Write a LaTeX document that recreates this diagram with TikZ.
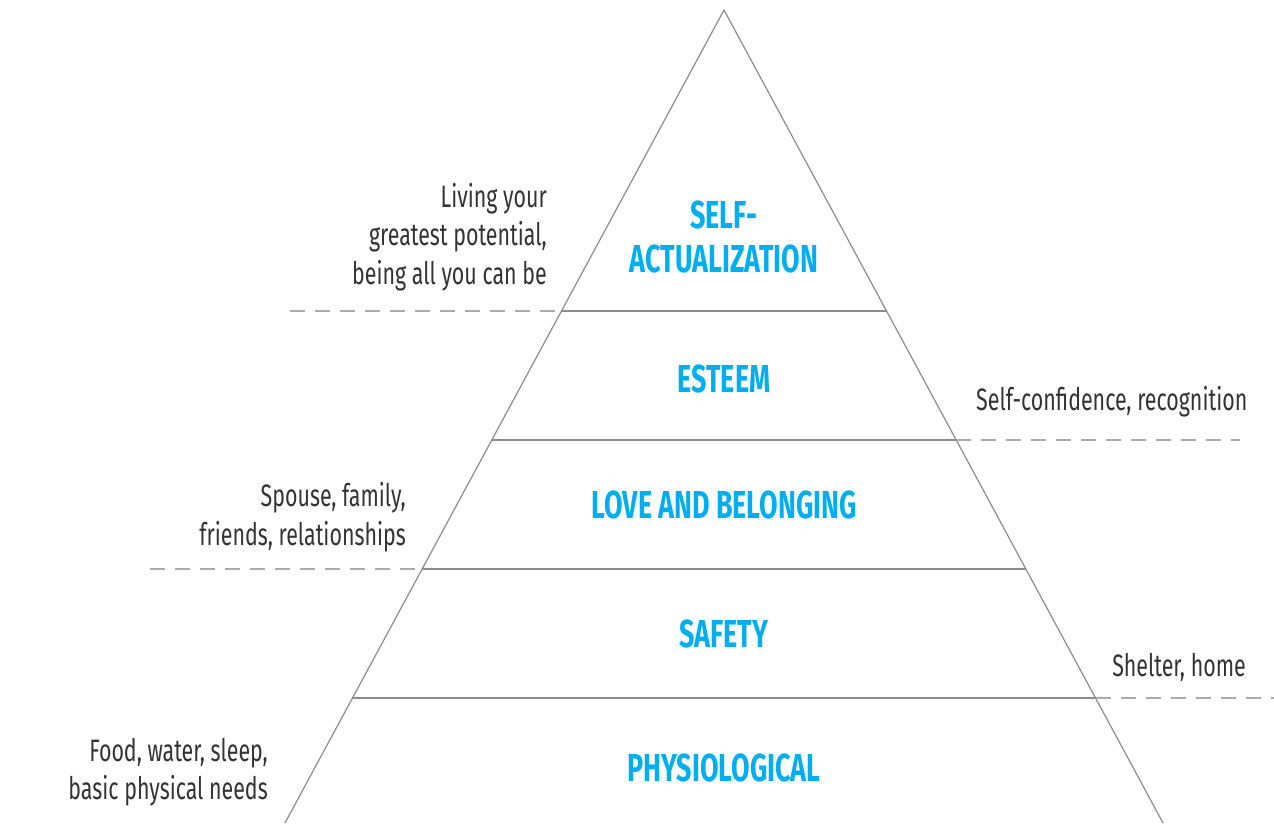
\documentclass[tikz,border=0pt]{standalone}
\usepackage{fontspec}
\setmainfont{Fira Sans}[FakeStretch=0.69]
\definecolor{tierblue}{HTML}{00AEEF}
\definecolor{notegray}{HTML}{333333}
\definecolor{linegray}{HTML}{8C8C8C}
\definecolor{dashgray}{HTML}{ABABAB}

\begin{document}
\begin{tikzpicture}[x=1pt,y=-1pt,
    tier/.style={font=\fontsize{39}{44}\selectfont\bfseries,text=tierblue,align=center,inner sep=0pt},
    note/.style={font=\fontsize{31}{38.5}\selectfont,text=notegray,inner sep=0pt},
    edge/.style={draw=linegray,line width=1.2pt},
    guide/.style={draw=dashgray,line width=1.5pt,dash pattern=on 15pt off 10pt}]
  \useasboundingbox (0,0) rectangle (1274,823);
  \def\s{0.54}
  % pyramid outline
  \coordinate (apex) at (724,10);
  \coordinate (bl) at ({724-\s*813},823);
  \coordinate (br) at ({724+\s*813},823);
  \draw[edge] (bl) -- (apex) -- (br);
  % tier borders
  \foreach \y/\n in {311/a,440/b,569/c,698/d}{
    \coordinate (l\n) at ({724-\s*(\y-10)},\y);
    \coordinate (r\n) at ({724+\s*(\y-10)},\y);
    \draw[edge] (l\n) -- (r\n);
  }
  % dashed guides
  \coordinate (ga) at (290,311);
  \coordinate (gb) at (1240,440);
  \coordinate (gc) at (150,569);
  \coordinate (gd) at (1274,698);
  \draw[guide] (ga) -- (la);
  \draw[guide] (rb) -- (gb);
  \draw[guide] (gc) -- (lc);
  \draw[guide] (rd) -- (gd);
  % tiers
  \node[tier] (selfact) at (724,237) {SELF-\\ACTUALIZATION};
  \node[tier] (esteem) at (724,379) {ESTEEM};
  \node[tier] (love) at (724,505) {LOVE AND BELONGING};
  \node[tier] (safety) at (724,634) {SAFETY};
  \node[tier] (physio) at (724,768) {PHYSIOLOGICAL};
  % notes
  \node[note,anchor=east,align=right] (potential) at (547,237) {Living your\\greatest potential,\\being all you can be};
  \node[note,anchor=west] (confidence) at (976,402) {Self-confidence, recognition};
  \node[note,anchor=east,align=right] (family) at (406,517) {Spouse, family,\\friends, relationships};
  \node[note,anchor=east] (shelter) at (1246,667) {Shelter, home};
  \node[note,anchor=east,align=right] (needs) at (268,772) {Food, water, sleep,\\basic physical needs};
\end{tikzpicture}
\end{document}
